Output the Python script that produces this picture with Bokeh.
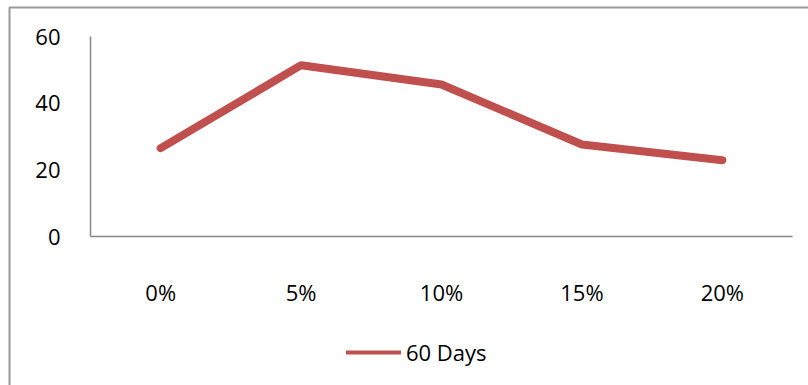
from bokeh.plotting import figure
from bokeh.models import (ColumnDataSource, Range1d, Legend, LegendItem, FixedTicker,
                          BoxAnnotation)
from bokeh.embed import file_html
from bokeh.resources import INLINE

categories = ["0%", "5%", "10%", "15%", "20%"]
days_60 = [26.5, 51.4, 45.6, 27.6, 22.9]
y_ticks = [0, 20, 40, 60]

FONT = "Open Sans"
W, H = 808, 385
# pixel layout of the plot area inside the canvas
PX_X0, PX_X1, PX_Y0, PX_Y1 = 90, 792, 36, 236   # left, right, top(60), bottom(0)
n = len(categories)
ppu_x = (PX_X1 - PX_X0) / n
ppu_y = (PX_Y1 - PX_Y0) / 60.0
cx0 = PX_X0 + ppu_x / 2          # pixel of first category centre

x_pos = list(range(n))
src = ColumnDataSource(dict(x=x_pos, y=days_60, cat=categories))

x_range = Range1d(-cx0 / ppu_x, (W - cx0) / ppu_x)
y_range = Range1d(-(H - PX_Y1) / ppu_y, 60 + PX_Y0 / ppu_y)

p = figure(width=W, height=H, output_backend="svg", toolbar_location=None,
           x_range=x_range, y_range=y_range,
           min_border=0, min_border_left=0, min_border_right=0,
           min_border_top=0, min_border_bottom=0)
p.outline_line_color = None
p.grid.grid_line_color = None
p.background_fill_color = "white"
p.border_fill_color = "white"

r = p.line("x", "y", source=src, line_color="#C0504D", line_width=8,
           line_cap="round", line_join="round")
# legend swatch (thinner line, as in the reference legend); its single point hides under the series
swatch = p.line(x=x_pos[:1], y=days_60[:1], line_color="#C0504D", line_width=4,
                line_cap="round")

xa, ya = p.xaxis[0], p.yaxis[0]
for ax in (xa, ya):
    ax.axis_line_color = "#868686"
    ax.axis_line_width = 1.5
    ax.major_tick_line_color = None
    ax.minor_tick_line_color = None
    ax.major_label_text_font = FONT
    ax.major_label_text_font_size = "22px"
    ax.major_label_text_color = "black"

xa.fixed_location = 0
xa.bounds = (-0.5, n - 0.5)
xa.ticker = FixedTicker(ticks=x_pos)
xa.major_label_overrides = {i: c for i, c in zip(x_pos, categories)}
xa.major_label_standoff = 34

ya.fixed_location = -0.5
ya.bounds = (0, 60)
ya.ticker = FixedTicker(ticks=y_ticks)
ya.major_label_standoff = 24

legend = Legend(items=[LegendItem(label="60 Days", renderers=[swatch])],
                location=(346, 18), orientation="horizontal",
                glyph_width=55, glyph_height=20, label_standoff=5,
                padding=0, margin=0, spacing=0,
                border_line_color=None, background_fill_alpha=0,
                label_text_font=FONT, label_text_font_size="22px",
                label_text_color="black")
p.add_layout(legend, "center")

# outer chart border (left and top edges visible; right/bottom lie outside the window)
border = BoxAnnotation(left=(9 - cx0) / ppu_x, top=60 + (PX_Y0 - 7) / ppu_y,
                       right=(W + 20 - cx0) / ppu_x, bottom=-(H + 20 - PX_Y1) / ppu_y,
                       fill_alpha=0, line_color="#999999", line_width=2, line_alpha=1)
p.add_layout(border)

open("out.html", "w").write(file_html(p, INLINE))
